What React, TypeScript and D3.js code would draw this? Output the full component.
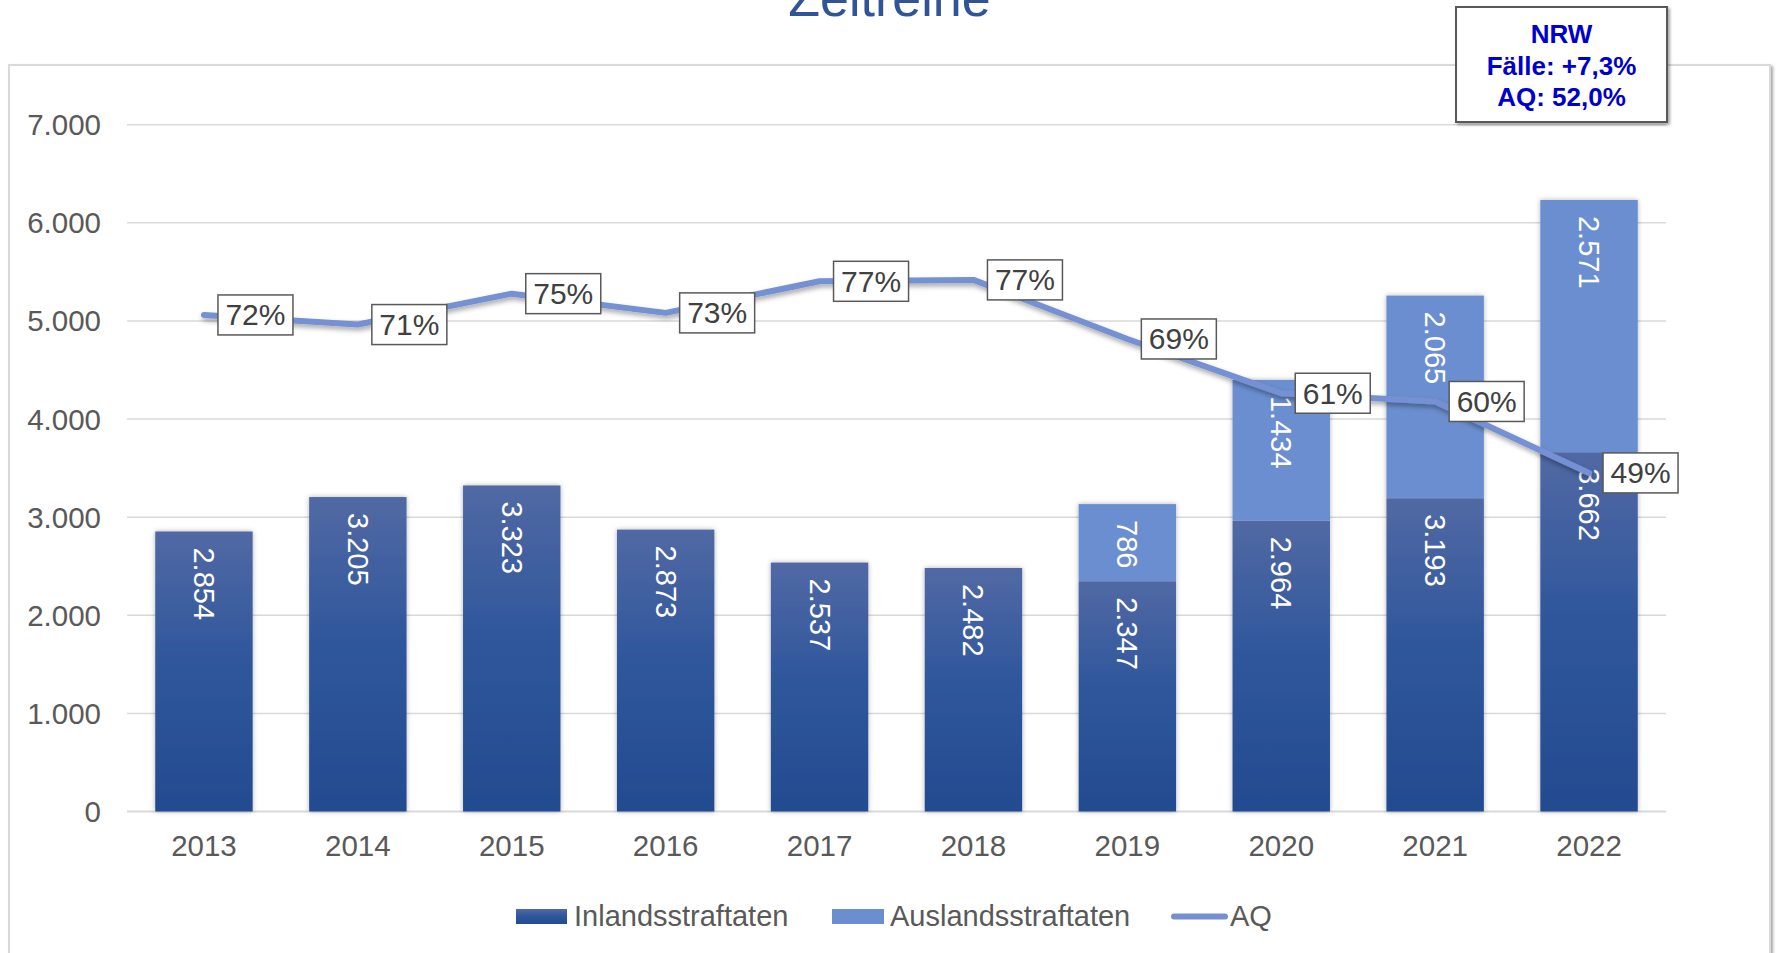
import React from 'react';
import * as d3 from 'd3';

const years = ['2013', '2014', '2015', '2016', '2017', '2018', '2019', '2020', '2021', '2022'];
const inland = [2854, 3205, 3323, 2873, 2537, 2482, 2347, 2964, 3193, 3662];
const ausland = [0, 0, 0, 0, 0, 0, 786, 1434, 2065, 2571];
const aq = [0.723, 0.709, 0.754, 0.726, 0.772, 0.774, 0.688, 0.609, 0.597, 0.493];
const yTicks = [0, 1000, 2000, 3000, 4000, 5000, 6000, 7000];
const infoLines = ['NRW', 'Fälle: +7,3%', 'AQ: 52,0%'];

const W = 1777;
const H = 953;
const FONT = '"Liberation Sans", Arial, sans-serif';
const INLAND_TOP = '#5169a4';
const INLAND_BOTTOM = '#234b90';
const AUSLAND = '#6b8ecf';
const LINE = '#7490d3';
const GRID = '#d9d9d9';
const TXT = '#595959';

const de = d3.formatLocale({ decimal: ',', thousands: '.', grouping: [3], currency: ['', '€'] });
const fmt = de.format(',');

export default function App() {
  const plot = { left: 127, right: 1666, top: 124.7, bottom: 811.5 };

  const x = d3.scaleBand()
    .domain(years)
    .range([plot.left, plot.right])
    .paddingInner(0.367)
    .paddingOuter(0.1835);

  const y = d3.scaleLinear().domain([0, 7000]).range([plot.bottom, plot.top]);
  // AQ sits on a hidden secondary axis, 0–100 %
  const y2 = d3.scaleLinear().domain([0, 1]).range([plot.bottom, plot.top]);

  const cx = (yr: string) => (x(yr) as number) + x.bandwidth() / 2;

  const line = d3.line<number>()
    .x((_, i) => cx(years[i]))
    .y(d => y2(d));

  const rows = years.map((yr, i) => ({ yr, inl: inland[i], aus: ausland[i], aq: aq[i] }));

  return (
    <svg width={W} height={H} style={{ position: 'absolute', left: 0, top: 0, fontFamily: FONT }}>
      <defs>
        <linearGradient id="inl" x1="0" y1="0" x2="0" y2="1">
          <stop offset="0" stopColor={INLAND_TOP} />
          <stop offset="0.45" stopColor="#30579c" />
          <stop offset="1" stopColor={INLAND_BOTTOM} />
        </linearGradient>
        <filter id="barShadow" x="-20%" y="-5%" width="140%" height="110%">
          <feDropShadow dx="0" dy="0" stdDeviation="2.5" floodColor="#000" floodOpacity="0.3" />
        </filter>
        <filter id="lineShadow" x="-5%" y="-20%" width="110%" height="140%">
          <feDropShadow dx="1" dy="3" stdDeviation="2.5" floodColor="#000" floodOpacity="0.35" />
        </filter>
        <filter id="boxShadow" x="-5%" y="-5%" width="110%" height="110%">
          <feDropShadow dx="2" dy="2" stdDeviation="1.5" floodColor="#000" floodOpacity="0.35" />
        </filter>
      </defs>

      <rect x={0} y={0} width={W} height={H} fill="#fff" />

      {/* title, mostly cut off at the top like in the source */}
      <text x={889.5} y={16} textAnchor="middle" fontSize={52} fill="#2f5597">Zeitreihe</text>

      {/* chart frame */}
      <rect x={9} y={65} width={1761} height={920} fill="#fff" stroke={GRID} strokeWidth={2} filter="url(#boxShadow)" />

      {/* gridlines + y labels */}
      {yTicks.map(t => (
        <g key={t}>
          <line x1={plot.left} x2={plot.right} y1={y(t)} y2={y(t)} stroke={GRID} strokeWidth={t === 0 ? 2 : 1.5} />
          <text x={101} y={y(t)} textAnchor="end" dominantBaseline="central" fontSize={29.5} fill={TXT}>{fmt(t)}</text>
        </g>
      ))}

      {/* x labels */}
      {years.map(yr => (
        <text key={yr} x={cx(yr)} y={856} textAnchor="middle" fontSize={29.5} fill={TXT}>{yr}</text>
      ))}

      {/* stacked bars */}
      {rows.map(d => (
        <g key={d.yr} filter="url(#barShadow)">
          <rect x={x(d.yr)} y={y(d.inl)} width={x.bandwidth()} height={y(0) - y(d.inl)} fill="url(#inl)" />
          {d.aus > 0 && (
            <rect x={x(d.yr)} y={y(d.inl + d.aus)} width={x.bandwidth()} height={y(d.inl) - y(d.inl + d.aus)} fill={AUSLAND} />
          )}
        </g>
      ))}

      {/* bar value labels, rotated, inside end */}
      {rows.map(d => (
        <g key={'l' + d.yr}>
          <text transform={`translate(${cx(d.yr)},${y(d.inl) + 16}) rotate(90)`} dominantBaseline="central" fontSize={29} fill="#fff">{fmt(d.inl)}</text>
          {d.aus > 0 && (
            <text transform={`translate(${cx(d.yr)},${y(d.inl + d.aus) + 16}) rotate(90)`} dominantBaseline="central" fontSize={29} fill="#fff">{fmt(d.aus)}</text>
          )}
        </g>
      ))}

      {/* AQ line */}
      <path d={line(aq) || ''} fill="none" stroke={LINE} strokeWidth={6} strokeLinejoin="round" strokeLinecap="round" filter="url(#lineShadow)" />

      {/* AQ labels */}
      {rows.map(d => {
        const label = Math.round(d.aq * 100) + '%';
        const bx = cx(d.yr) + 14;
        const by = y2(d.aq);
        const bw = 75;
        const bh = 40;
        return (
          <g key={'aq' + d.yr}>
            <rect x={bx} y={by - bh / 2} width={bw} height={bh} fill="#fff" stroke={TXT} strokeWidth={1.5} />
            <text x={bx + bw / 2} y={by} textAnchor="middle" dominantBaseline="central" fontSize={30} fill="#404040">{label}</text>
          </g>
        );
      })}

      {/* NRW info box */}
      <rect x={1456} y={7} width={211} height={115} fill="#fff" stroke="#595959" strokeWidth={2} filter="url(#boxShadow)" />
      {infoLines.map((s, i) => (
        <text key={s} x={1561.5} y={43 + i * 31.7} textAnchor="middle" fontSize={26} fontWeight="bold" fill="#0000cc">{s}</text>
      ))}

      {/* legend */}
      <g fontSize={29} fill={TXT}>
        <rect x={516} y={909} width={51} height={15} fill="url(#inl)" />
        <text x={574} y={926}>Inlandsstraftaten</text>
        <rect x={832} y={909} width={52} height={15} fill={AUSLAND} />
        <text x={890} y={926}>Auslandsstraftaten</text>
        <line x1={1174} x2={1225} y1={916.5} y2={916.5} stroke={LINE} strokeWidth={6} strokeLinecap="round" />
        <text x={1230} y={926}>AQ</text>
      </g>
    </svg>
  );
}
